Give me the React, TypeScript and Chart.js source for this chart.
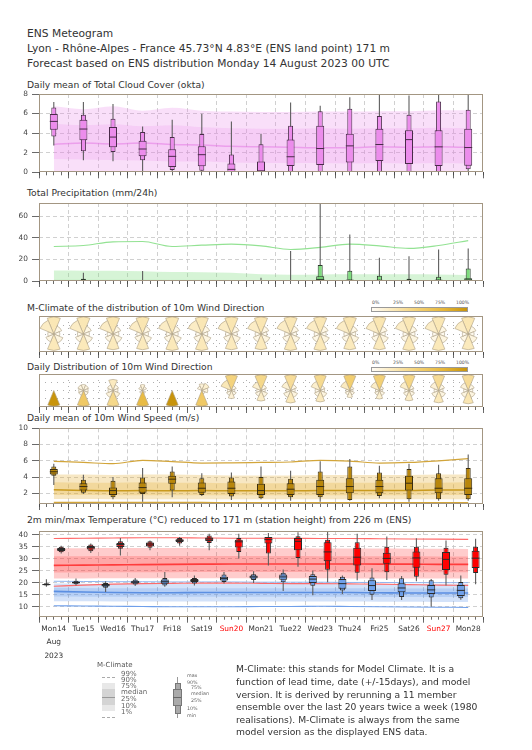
import React, { useEffect, useRef } from 'react';
import { Chart, registerables } from 'chart.js';

Chart.register(...registerables);

const FONT = '"DejaVu Sans", "Liberation Sans", sans-serif';
Chart.defaults.font.family = FONT;

// ---------------- categories / time ----------------
const DAY_LABELS = ['Mon14', 'Tue15', 'Wed16', 'Thu17', 'Fri18', 'Sat19', 'Sun20', 'Mon21', 'Tue22', 'Wed23', 'Thu24', 'Fri25', 'Sat26', 'Sun27', 'Mon28'];
const MONTH_LABEL = 'Aug';
const YEAR_LABEL = '2023';
// days since 14 Aug 00 UTC
const DAILY_T = [0.5, 1.5, 2.5, 3.5, 4.5, 5.5, 6.5, 7.5, 8.5, 9.5, 10.5, 11.5, 12.5, 13.5, 14.5];
const TMIN_T = [0.25, 1.25, 2.25, 3.25, 4.25, 5.25, 6.25, 7.25, 8.25, 9.25, 10.25, 11.25, 12.25, 13.25, 14.25];
const TMAX_T = [0.75, 1.75, 2.75, 3.75, 4.75, 5.75, 6.75, 7.75, 8.75, 9.75, 10.75, 11.75, 12.75, 13.75, 14.75];

// ---------------- tick labels ----------------
const CLOUD_TICKS = [0, 2, 4, 6, 8];
const PRECIP_TICKS = [0, 20, 40, 60];
const WIND_TICKS = [2, 4, 6, 8, 10];
const TEMP_TICKS = [10, 15, 20, 25, 30, 35, 40];
const COLORBAR_TICKS = ['0%', '25%', '50%', '75%', '100%'];

// ---------------- total cloud cover (okta) ----------------
const cloudMin = [2.75, 1.22, 1.12, 0, 0, 0, 0, 0, 0, 0, 0, 0, 0, 0, 0];
const cloudP10 = [3.67, 2.14, 2.07, 1.22, 0.24, 0.17, 0, 0, 0, 0, 0, 0, 0, 0, 0.3];
const cloudP25 = [4.35, 3.27, 2.55, 1.63, 0.54, 0.61, 0, 0, 0.64, 0.74, 1.0, 1.15, 0.84, 0.64, 0.68];
const cloudMed = [5.2, 4.42, 3.6, 2.38, 1.63, 1.8, 0.3, 0.15, 1.59, 2.43, 2.7, 2.84, 3.34, 2.6, 2.53];
const cloudP75 = [5.95, 5.37, 4.63, 3.23, 2.35, 2.65, 0.9, 1.1, 3.34, 4.76, 3.95, 4.46, 4.29, 4.29, 4.46];
const cloudP90 = [6.63, 5.88, 5.48, 4.12, 3.6, 3.91, 1.82, 2.87, 4.76, 6.25, 6.49, 5.74, 5.88, 7.23, 6.39];
const cloudMax = [7.18, 7.18, 6.97, 4.69, 5.37, 5.99, 5.2, 3.95, 7.13, 6.8, 7.67, 7.94, 7.84, 7.94, 7.94];
const cloudClimP10 = [0, 0, 0, 0, 0, 0, 0, 0, 0, 0, 0, 0, 0, 0, 0];
const cloudClimP25 = [1.35, 1.3, 1.25, 1.2, 1.1, 1.1, 1.0, 0.95, 0.95, 0.95, 0.9, 0.95, 0.9, 0.95, 0.9];
const cloudClimMed = [2.85, 3.0, 2.9, 3.0, 2.85, 2.8, 2.65, 2.6, 2.55, 2.5, 2.5, 2.6, 2.55, 2.6, 2.55];
const cloudClimP75 = [4.95, 4.8, 4.9, 4.7, 4.8, 4.6, 4.5, 4.45, 4.45, 4.5, 4.45, 4.5, 4.5, 4.55, 4.5];
const cloudClimP90 = [6.75, 6.45, 6.75, 6.3, 6.6, 6.3, 6.2, 6.15, 6.15, 6.2, 6.2, 6.25, 6.25, 6.35, 6.35];

// ---------------- total precipitation (mm/24h) ----------------
const precipMin = [0, 0, 0, 0, 0, 0, 0, 0, 0, 0, 0, 0, 0, 0, 0];
const precipP10 = [0, 0, 0, 0, 0, 0, 0, 0, 0, 0, 0, 0, 0, 0, 0];
const precipP25 = [0, 0, 0, 0, 0, 0, 0, 0, 0, 0.3, 0, 0, 0, 0, 0];
const precipMed = [0, 0, 0, 0, 0, 0, 0, 0, 0, 1.5, 0.4, 0.3, 0.2, 0.3, 0.5];
const precipP75 = [0, 0.8, 0, 0.2, 0, 0, 0, 0, 0.5, 4.5, 1.5, 1.2, 1.0, 1.5, 2.5];
const precipP90 = [0.3, 2.0, 0.2, 0.5, 0, 0, 0, 0.5, 1.0, 14.8, 9.5, 4.9, 2.2, 4.0, 11.7];
const precipMax = [0.5, 7.7, 0.5, 9.2, 0, 0, 0, 3.0, 27.7, 80, 43, 21.5, 23, 29.2, 30.2];
const precipClimP75 = [1.5, 1.5, 1.4, 1.3, 1.2, 1.1, 1.0, 0.9, 0.9, 0.9, 0.9, 0.9, 0.9, 0.8, 0.8];
const precipClimP90 = [9.8, 9.6, 9.5, 9.0, 8.3, 8.2, 7.7, 6.2, 5.8, 6.0, 6.2, 6.2, 6.2, 6.0, 5.5];
const precipClimP99 = [32, 32.9, 36.3, 36.6, 32, 33.2, 34.2, 32.6, 29.2, 31.1, 34.2, 32.6, 30.2, 32.9, 37.5];
const precipClimZero = [0, 0, 0, 0, 0, 0, 0, 0, 0, 0, 0, 0, 0, 0, 0];

// ---------------- 10m wind direction (% per sector N, NE, E, SE, S, SW, W, NW) ----------------
const roseClim = [
  [24, 6, 3, 8, 22, 6, 3, 18], [24, 6, 3, 8, 22, 6, 3, 18], [25, 6, 3, 8, 21, 6, 3, 18],
  [25, 6, 3, 8, 21, 6, 3, 18], [24, 6, 3, 8, 22, 6, 3, 18], [24, 6, 3, 8, 22, 6, 3, 18],
  [25, 6, 3, 8, 21, 6, 3, 18], [25, 6, 3, 8, 21, 6, 3, 18], [24, 6, 3, 8, 22, 6, 3, 18],
  [24, 6, 3, 8, 22, 6, 3, 18], [25, 6, 3, 8, 21, 6, 3, 18], [25, 6, 3, 8, 21, 6, 3, 18],
  [24, 6, 3, 8, 22, 6, 3, 18], [24, 6, 3, 8, 22, 6, 3, 18], [25, 6, 3, 8, 21, 6, 3, 18],
];
const roseDaily = [
  [0, 0, 0, 0, 100, 0, 0, 0],
  [8, 7, 5, 6, 55, 6, 5, 8],
  [20, 6, 4, 9, 40, 9, 4, 6],
  [10, 5, 0, 3, 70, 3, 0, 5],
  [0, 0, 0, 0, 100, 0, 0, 0],
  [10, 14, 8, 3, 55, 0, 0, 5],
  [45, 5, 2, 5, 12, 5, 3, 23],
  [40, 6, 3, 8, 18, 6, 3, 14],
  [35, 6, 3, 8, 22, 8, 3, 13],
  [38, 4, 3, 8, 20, 6, 4, 15],
  [50, 4, 2, 5, 10, 5, 3, 20],
  [48, 4, 2, 6, 14, 5, 3, 17],
  [42, 5, 3, 6, 18, 6, 3, 16],
  [36, 6, 3, 8, 22, 8, 3, 12],
  [35, 6, 3, 8, 25, 8, 3, 10],
];

// ---------------- 10m wind speed (m/s) ----------------
const windMin = [3.03, 1.92, 1.26, 0.97, 1.5, 1.67, 1.17, 1.26, 1.09, 0.97, 1.09, 1.38, 0.97, 1.09, 1.09];
const windP10 = [4.15, 2.08, 1.5, 1.92, 2.33, 1.8, 1.59, 1.38, 1.5, 1.5, 1.17, 1.67, 1.26, 1.26, 1.26];
const windP25 = [4.32, 2.33, 1.8, 2.08, 3.16, 2.08, 1.92, 1.8, 1.8, 1.8, 2.0, 2.0, 2.33, 2.0, 1.8];
const windMed = [4.65, 2.83, 2.33, 2.7, 3.74, 2.62, 2.62, 2.33, 2.5, 2.83, 2.83, 2.83, 3.24, 2.62, 2.62];
const windP75 = [4.98, 3.24, 2.7, 3.32, 4.15, 3.32, 3.45, 3.16, 3.24, 3.66, 3.86, 3.66, 4.15, 3.86, 3.86];
const windP90 = [5.31, 3.66, 3.53, 3.95, 4.69, 3.86, 3.95, 3.99, 3.78, 4.69, 5.31, 4.57, 4.98, 4.48, 5.1];
const windMax = [5.64, 4.28, 3.99, 5.1, 5.31, 4.48, 4.57, 5.31, 4.77, 5.93, 6.22, 5.39, 5.64, 5.51, 6.76];
const windClimP1 = [0.88, 0.88, 0.87, 0.87, 0.87, 0.87, 0.86, 0.86, 0.86, 0.86, 0.86, 0.86, 0.86, 0.86, 0.86];
const windClimP10 = [1.3, 1.3, 1.28, 1.28, 1.28, 1.27, 1.26, 1.26, 1.26, 1.27, 1.27, 1.27, 1.27, 1.28, 1.28];
const windClimP25 = [1.8, 1.78, 1.76, 1.77, 1.76, 1.76, 1.75, 1.75, 1.75, 1.76, 1.76, 1.76, 1.76, 1.78, 1.78];
const windClimMed = [2.42, 2.35, 2.3, 2.35, 2.3, 2.35, 2.3, 2.3, 2.3, 2.35, 2.35, 2.35, 2.35, 2.4, 2.4];
const windClimP75 = [3.35, 3.3, 3.3, 3.35, 3.3, 3.3, 3.25, 3.25, 3.25, 3.3, 3.3, 3.3, 3.3, 3.3, 3.35];
const windClimP90 = [4.3, 4.3, 4.25, 4.3, 4.3, 4.25, 4.2, 4.2, 4.2, 4.25, 4.25, 4.25, 4.25, 4.3, 4.3];
const windClimP99 = [5.93, 5.8, 5.64, 6.06, 5.9, 5.72, 5.75, 5.8, 5.85, 6.06, 5.97, 5.72, 5.8, 6.0, 6.26];

// ---------------- 2m min / max temperature (°C) ----------------
const tminLo = [18.3, 18.8, 16.1, 18.6, 18.3, 18.8, 19.7, 19.9, 16.5, 14.8, 15.3, 12.8, 12.8, 10.0, 12.9];
const tminP10 = [18.8, 19.4, 17.9, 19.2, 18.8, 19.7, 20.3, 21.1, 20.2, 18.7, 16.8, 15.0, 14.0, 13.8, 13.5];
const tminP25 = [19.0, 19.7, 18.4, 19.7, 19.6, 20.3, 20.9, 21.7, 21.2, 19.9, 17.5, 16.5, 16.0, 15.3, 14.5];
const tminMed = [19.2, 20.1, 19.0, 20.2, 20.4, 20.9, 21.7, 22.4, 22.4, 21.5, 19.6, 18.8, 17.8, 17.0, 16.8];
const tminP75 = [19.4, 20.4, 19.5, 20.8, 21.3, 21.5, 22.5, 23.0, 23.4, 22.8, 21.5, 21.0, 19.8, 19.0, 19.0];
const tminP90 = [19.8, 20.8, 19.9, 21.3, 22.0, 22.0, 23.4, 23.5, 24.1, 23.5, 22.5, 22.2, 21.8, 21.0, 20.3];
const tminHi = [21.4, 21.7, 20.6, 22.0, 24.4, 23.0, 24.4, 24.8, 25.5, 25.0, 23.0, 26.0, 22.8, 21.5, 23.0];

const tmaxLo = [32.1, 32.4, 31.3, 33.5, 35.4, 33.5, 30.1, 27.1, 26.6, 20.2, 21.0, 21.1, 20.6, 18.8, 19.4];
const tmaxP10 = [32.7, 33.1, 34.1, 34.5, 36.3, 36.5, 32.8, 32.1, 30.3, 25.4, 24.1, 24.3, 22.5, 23.3, 24.0];
const tmaxP25 = [33.2, 33.8, 34.8, 35.2, 36.9, 37.3, 34.6, 36.3, 33.5, 28.9, 27.1, 27.9, 26.2, 25.3, 26.1];
const tmaxMed = [33.8, 34.6, 35.9, 36.1, 37.6, 38.2, 37.0, 37.9, 37.2, 32.8, 30.6, 30.1, 30.3, 29.7, 30.2];
const tmaxP75 = [34.4, 35.3, 36.5, 36.7, 38.1, 38.8, 37.9, 39.0, 38.6, 36.8, 34.5, 32.5, 33.0, 32.8, 33.3];
const tmaxP90 = [34.9, 35.9, 37.2, 37.2, 38.6, 39.6, 38.6, 39.0, 39.3, 37.9, 36.8, 35.0, 35.0, 34.5, 35.0];
const tmaxHi = [35.4, 36.3, 38.6, 37.6, 39.0, 40.4, 40.4, 40.7, 41.0, 41.8, 40.4, 39.2, 38.5, 37.6, 38.3];

const tmaxClimP1 = [18.5, 19.0, 19.4, 19.6, 19.7, 19.8, 19.8, 19.7, 19.6, 19.6, 19.5, 19.4, 19.2, 19.0, 18.9];
const tmaxClimP10 = [21.7, 21.7, 21.8, 21.8, 21.8, 21.8, 21.8, 21.8, 21.8, 21.8, 21.7, 21.7, 21.7, 21.7, 21.7];
const tmaxClimP25 = [24.2, 24.2, 24.3, 24.3, 24.3, 24.4, 24.4, 24.4, 24.4, 24.4, 24.3, 24.3, 24.3, 24.3, 24.3];
const tmaxClimMed = [27.2, 27.3, 27.4, 27.5, 27.6, 27.7, 27.8, 27.8, 27.8, 27.8, 27.8, 27.7, 27.7, 27.6, 27.6];
const tmaxClimP75 = [31.0, 31.0, 31.1, 31.1, 31.1, 31.1, 31.1, 31.1, 31.1, 31.0, 31.0, 31.0, 31.0, 30.9, 30.9];
const tmaxClimP90 = [34.3, 34.3, 34.4, 34.4, 34.4, 34.3, 34.3, 34.3, 34.3, 34.2, 34.2, 34.2, 34.1, 34.1, 34.0];
const tmaxClimP99 = [38.4, 38.5, 38.6, 38.7, 38.7, 38.6, 38.5, 38.5, 38.5, 38.4, 38.4, 38.3, 38.2, 38.1, 38.0];

const tminClimP1 = [10.4, 10.3, 10.2, 10.1, 10.0, 10.0, 10.0, 10.1, 10.1, 10.2, 10.1, 10.0, 9.9, 9.8, 9.7];
const tminClimP10 = [12.3, 12.3, 12.2, 12.2, 12.2, 12.2, 12.2, 12.2, 12.2, 12.2, 12.2, 12.1, 12.1, 12.0, 12.0];
const tminClimP25 = [14.3, 14.2, 14.1, 14.1, 14.1, 14.1, 14.1, 14.1, 14.1, 14.1, 14.1, 14.0, 14.0, 14.0, 14.0];
const tminClimMed = [16.4, 16.1, 15.9, 15.8, 15.8, 15.9, 15.9, 15.9, 15.9, 15.9, 15.9, 15.8, 15.7, 15.7, 15.7];
const tminClimP75 = [17.9, 17.8, 17.7, 17.7, 17.7, 17.7, 17.7, 17.7, 17.7, 17.7, 17.7, 17.6, 17.6, 17.6, 17.6];
const tminClimP90 = [19.7, 19.6, 19.5, 19.5, 19.5, 19.5, 19.5, 19.5, 19.5, 19.5, 19.4, 19.4, 19.4, 19.3, 19.3];
const tminClimP99 = [20.6, 20.5, 20.4, 20.4, 20.3, 20.3, 20.3, 20.2, 20.2, 20.2, 20.1, 20.1, 20.0, 20.0, 20.0];

// ---------------- styles ----------------
const TMAX_COLORS = ['#c81c1c', '#d01a1a', '#cc1818', '#c81414', '#c81010', '#d81010', '#ff0000', '#ff0000', '#ff0000', '#ff0000', '#ff0000', '#ff0000', '#ff0000', '#ff0000', '#ff0000'];
const TMIN_COLORS = ['#2e4570', '#4a6ea8', '#3f639a', '#4b72ad', '#5d8ed4', '#5381c4', '#6699e0', '#6a9de6', '#6a9de6', '#6d9fe9', '#6fa0ea', '#6fa0ea', '#6fa0ea', '#6fa0ea', '#6fa0ea'];
const RAMP: [number, number[]][] = [[0, [255, 252, 245]], [0.25, [250, 230, 178]], [0.5, [242, 206, 112]], [0.75, [230, 182, 58]], [1, [200, 148, 12]]];
const GRID = '#c4c4c4';
const PAGE_W = 532;
const PLOT_LEFT = 39;
const PLOT_RIGHT = 483;

type Geom = { canvasTop: number; plotTop: number; plotBottom: number; canvasBottom: number };
const G_CLOUD: Geom = { canvasTop: 89, plotTop: 93.5, plotBottom: 172.3, canvasBottom: 180 };
const G_PRECIP: Geom = { canvasTop: 198, plotTop: 202.7, plotBottom: 281, canvasBottom: 288 };
const G_ROSE1: Geom = { canvasTop: 312, plotTop: 316, plotBottom: 352, canvasBottom: 358 };
const G_ROSE2: Geom = { canvasTop: 370, plotTop: 374, plotBottom: 407, canvasBottom: 414 };
const G_WIND: Geom = { canvasTop: 423, plotTop: 428.3, plotBottom: 504, canvasBottom: 511 };
const G_TEMP: Geom = { canvasTop: 526, plotTop: 530.7, plotBottom: 616.7, canvasBottom: 664 };

function rampColor(f: number): string {
  const v = Math.max(0, Math.min(1, f));
  for (let i = 1; i < RAMP.length; i++) {
    if (v <= RAMP[i][0]) {
      const [a0, c0] = RAMP[i - 1];
      const [a1, c1] = RAMP[i];
      const t = (v - a0) / (a1 - a0);
      const c = c0.map((c, k) => Math.round(c + (c1[k] - c) * t));
      return `rgb(${c[0]},${c[1]},${c[2]})`;
    }
  }
  return 'rgb(200,148,12)';
}

function labelFor(v: number): any {
  const i = Math.floor(v + 1e-9);
  if (Math.abs(v - i - 0.5) > 1e-6 || i < 0 || i >= DAY_LABELS.length) return '';
  return i === 0 ? [DAY_LABELS[0], MONTH_LABEL, YEAR_LABEL] : DAY_LABELS[i];
}

type Stats = { lo: number[]; p10: number[]; p25: number[]; med: number[]; p75: number[]; p90: number[]; hi: number[] };

function boxSets(xs: number[], s: Stats, fill: any, edge: string): any[] {
  const span = (a: number[], b: number[]) => xs.map((x, i) => ({ x, y: [a[i], b[i]] }));
  const common = { type: 'bar', grouped: false, borderSkipped: false, inflateAmount: 0, xAxisID: 'x', yAxisID: 'y' };
  return [
    { ...common, data: span(s.lo, s.hi), backgroundColor: '#5e5e5e', borderWidth: 0, barThickness: 1.1, order: 4 },
    { ...common, data: span(s.p10, s.p90), backgroundColor: fill, borderColor: edge, borderWidth: 1, barThickness: 5, order: 3 },
    { ...common, data: span(s.p25, s.p75), backgroundColor: fill, borderColor: edge, borderWidth: 1, barThickness: 8, order: 2 },
    {
      type: 'line', xAxisID: 'x', yAxisID: 'y', data: xs.map((x, i) => ({ x, y: s.med[i] })), showLine: false,
      pointStyle: 'line', pointRadius: 4, pointHoverRadius: 4, pointBorderWidth: 1, pointBorderColor: edge, pointBackgroundColor: edge, order: 1,
    },
  ];
}

function pts(xs: number[], a: number[]) {
  return xs.map((x, i) => ({ x, y: a[i] }));
}

function band(xs: number[], lower: number[], upper: number[], color: string): any[] {
  const base = { type: 'line', xAxisID: 'x', yAxisID: 'y', borderColor: 'rgba(0,0,0,0)', borderWidth: 1, pointRadius: 0, cubicInterpolationMode: 'monotone', order: 20 };
  return [
    { ...base, data: pts(xs, lower), fill: false },
    { ...base, data: pts(xs, upper), fill: '-1', backgroundColor: color },
  ];
}

function curve(xs: number[], vals: number[], color: string, width: number): any {
  return { type: 'line', xAxisID: 'x', yAxisID: 'y', data: pts(xs, vals), borderColor: color, borderWidth: width, pointRadius: 0, fill: false, cubicInterpolationMode: 'monotone', order: 15 };
}

function xAxes(axisHeight: number, labels: boolean, dash: number[], gridColor: string) {
  const quarter = Array.from({ length: 61 }, (_, k) => k / 4);
  const days = Array.from({ length: 16 }, (_, k) => k);
  return {
    x: {
      type: 'linear', position: 'bottom', min: 0, max: 15, offset: false, weight: 0,
      afterBuildTicks: (s: any) => { s.ticks = quarter.map((value) => ({ value })); },
      afterFit: (s: any) => { s.height = axisHeight; s.paddingLeft = 0; s.paddingRight = 0; },
      ticks: {
        display: labels, autoSkip: false, maxRotation: 0, minRotation: 0, padding: 2.5,
        font: { family: FONT, size: 7.4, lineHeight: 1.82 },
        color: (c: any) => {
          const v = c.tick ? c.tick.value : 0;
          const name = DAY_LABELS[Math.floor(v)] || '';
          return name.startsWith('Sun') ? '#ff0000' : '#333333';
        },
        callback: (v: any) => labelFor(Number(v)),
      },
      grid: {
        offset: false, lineWidth: 0.8, drawTicks: true, tickLength: 3, tickWidth: 0.8, tickColor: '#444444',
        color: (c: any) => {
          const v = c.tick ? c.tick.value : -1;
          return Number.isInteger(v) && v > 0 && v < 15 ? gridColor : 'rgba(0,0,0,0)';
        },
      },
      border: { display: false, dash },
    },
    xMajor: {
      type: 'linear', position: 'bottom', min: 0, max: 15, offset: false, weight: -1,
      afterBuildTicks: (s: any) => { s.ticks = days.map((value) => ({ value })); },
      afterFit: (s: any) => { s.height = 0; s.paddingLeft = 0; s.paddingRight = 0; },
      ticks: { display: false },
      grid: { offset: false, drawOnChartArea: false, drawTicks: true, tickLength: 6, tickWidth: 0.8, tickColor: '#444444' },
      border: { display: false },
    },
  };
}

function yAxis(min: number, max: number, ticks: number[], labels: boolean, dash: number[], gridColor: string, tickLen = 7) {
  return {
    type: 'linear', position: 'left', min, max,
    afterBuildTicks: (s: any) => { s.ticks = ticks.map((value) => ({ value })); },
    afterFit: (s: any) => { s.width = PLOT_LEFT; s.paddingTop = 0; s.paddingBottom = 0; },
    ticks: { display: labels, padding: 4, autoSkip: false, font: { family: FONT, size: 7.4 }, color: '#444444', callback: (v: any) => String(v) },
    grid: {
      lineWidth: 0.8, tickLength: tickLen, tickWidth: 0.8, tickColor: '#444444', drawTicks: tickLen > 0,
      color: (c: any) => {
        const v = c.tick ? c.tick.value : min;
        return v > min + 1e-6 && v < max - 1e-6 ? gridColor : 'rgba(0,0,0,0)';
      },
    },
    border: { display: false, dash },
  };
}

const framePlugin = {
  id: 'frame',
  afterDraw(chart: any) {
    const { ctx, chartArea: a } = chart;
    ctx.save();
    ctx.strokeStyle = '#a39682';
    ctx.lineWidth = 1;
    const l = Math.round(a.left) + 0.5, t = Math.round(a.top) + 0.5;
    const r = Math.round(a.right) - 0.5, b = Math.round(a.bottom) - 0.5;
    ctx.strokeRect(l, t, r - l, b - t);
    ctx.restore();
  },
};

function rosePlugin(dist: number[][]) {
  return {
    id: 'roses',
    afterDatasetsDraw(chart: any) {
      const { ctx, chartArea: a } = chart;
      const meta = chart.getDatasetMeta(0);
      const ys = chart.scales.y;
      const R = Math.abs(ys.getPixelForValue(1) - ys.getPixelForValue(0));
      ctx.save();
      ctx.beginPath();
      ctx.rect(a.left, a.top, a.right - a.left, a.bottom - a.top);
      ctx.clip();
      dist.forEach((freqs, i) => {
        const el = meta.data[i];
        if (!el) return;
        const cx = el.x, cy = el.y;
        const fmax = Math.max(...freqs);
        freqs.forEach((f, k) => {
          if (f <= 0) return;
          const r = R * 0.95 * Math.sqrt(f / fmax);
          const mid = (k * Math.PI) / 4 - Math.PI / 2;
          ctx.beginPath();
          ctx.moveTo(cx, cy);
          ctx.arc(cx, cy, r, mid - Math.PI / 8, mid + Math.PI / 8);
          ctx.closePath();
          ctx.fillStyle = rampColor(f / 100);
          ctx.fill();
          ctx.strokeStyle = '#ad9f84';
          ctx.lineWidth = 0.6;
          ctx.stroke();
        });
      });
      ctx.restore();
    },
  };
}

function options(g: Geom, scales: any) {
  return {
    responsive: false, maintainAspectRatio: false, animation: false, devicePixelRatio: 1, events: [],
    layout: { padding: { top: g.plotTop - g.canvasTop, right: PAGE_W - PLOT_RIGHT, bottom: 0, left: 0 } },
    plugins: { legend: { display: false }, tooltip: { enabled: false }, title: { display: false } },
    scales,
  };
}

const DASH = [4, 3];
const DOT = [1, 5];

function buildConfigs(): any[] {
  const cloud = {
    type: 'bar',
    data: {
      datasets: [
        ...band(DAILY_T, cloudClimP10, cloudClimP90, 'rgba(232,130,232,0.26)'),
        ...band(DAILY_T, cloudClimP25, cloudClimP75, 'rgba(232,130,232,0.2)'),
        curve(DAILY_T, cloudClimMed, 'rgba(228,120,228,0.55)', 1.5),
        ...boxSets(DAILY_T, { lo: cloudMin, p10: cloudP10, p25: cloudP25, med: cloudMed, p75: cloudP75, p90: cloudP90, hi: cloudMax }, '#ec8cec', '#4a2a4a'),
      ],
    },
    options: options(G_CLOUD, { ...xAxes(G_CLOUD.canvasBottom - G_CLOUD.plotBottom, false, DASH, GRID), y: yAxis(0, 8, CLOUD_TICKS, true, DASH, GRID) }),
    plugins: [framePlugin],
  };
  const precip = {
    type: 'bar',
    data: {
      datasets: [
        ...band(DAILY_T, precipClimZero, precipClimP90, 'rgba(120,220,120,0.3)'),
        ...band(DAILY_T, precipClimZero, precipClimP75, 'rgba(120,220,120,0.15)'),
        curve(DAILY_T, precipClimP99, '#93e293', 1.2),
        ...boxSets(DAILY_T, { lo: precipMin, p10: precipP10, p25: precipP25, med: precipMed, p75: precipP75, p90: precipP90, hi: precipMax }, '#7ddc7d', '#2a3a2a'),
      ],
    },
    options: options(G_PRECIP, { ...xAxes(G_PRECIP.canvasBottom - G_PRECIP.plotBottom, false, DASH, GRID), y: yAxis(0, 72.3, PRECIP_TICKS, true, DASH, GRID) }),
    plugins: [framePlugin],
  };
  const roseCfg = (g: Geom, dist: number[][]) => ({
    type: 'scatter',
    data: { datasets: [{ data: DAILY_T.map((x) => ({ x, y: 0 })), pointRadius: 0, xAxisID: 'x', yAxisID: 'y' }] },
    options: options(g, { ...xAxes(g.canvasBottom - g.plotBottom, false, DOT, '#9a9a9a'), y: yAxis(-1, 1, [-0.5, 0, 0.5], false, DOT, '#9a9a9a', 0) }),
    plugins: [rosePlugin(dist), framePlugin],
  });
  const wind = {
    type: 'bar',
    data: {
      datasets: [
        ...band(DAILY_T, windClimP10, windClimP90, 'rgba(226,170,40,0.28)'),
        ...band(DAILY_T, windClimP25, windClimP75, 'rgba(226,170,40,0.25)'),
        curve(DAILY_T, windClimMed, '#c99a1e', 1.5),
        curve(DAILY_T, windClimP99, '#d2a53a', 1.2),
        curve(DAILY_T, windClimP1, '#d2a53a', 1.2),
        ...boxSets(DAILY_T, { lo: windMin, p10: windP10, p25: windP25, med: windMed, p75: windP75, p90: windP90, hi: windMax }, '#b8860b', '#3a2e10'),
      ],
    },
    options: options(G_WIND, { ...xAxes(G_WIND.canvasBottom - G_WIND.plotBottom, false, DASH, GRID), y: yAxis(0.68, 10, WIND_TICKS, true, DASH, GRID) }),
    plugins: [framePlugin],
  };
  const temp = {
    type: 'bar',
    data: {
      datasets: [
        ...band(DAILY_T, tmaxClimP10, tmaxClimP90, 'rgba(255,40,40,0.24)'),
        ...band(DAILY_T, tmaxClimP25, tmaxClimP75, 'rgba(255,40,40,0.22)'),
        ...band(DAILY_T, tminClimP10, tminClimP90, 'rgba(80,140,230,0.25)'),
        ...band(DAILY_T, tminClimP25, tminClimP75, 'rgba(80,140,230,0.22)'),
        curve(DAILY_T, tmaxClimMed, '#ff3c3c', 1.6),
        curve(DAILY_T, tmaxClimP99, '#ff6a6a', 1.1),
        curve(DAILY_T, tmaxClimP1, '#ff6a6a', 1.1),
        curve(DAILY_T, tminClimMed, '#5b8fe2', 1.6),
        curve(DAILY_T, tminClimP99, '#8fb5ef', 1.0),
        curve(DAILY_T, tminClimP1, '#6f9fea', 1.1),
        ...boxSets(TMIN_T, { lo: tminLo, p10: tminP10, p25: tminP25, med: tminMed, p75: tminP75, p90: tminP90, hi: tminHi }, TMIN_COLORS, '#2a2a2a'),
        ...boxSets(TMAX_T, { lo: tmaxLo, p10: tmaxP10, p25: tmaxP25, med: tmaxMed, p75: tmaxP75, p90: tmaxP90, hi: tmaxHi }, TMAX_COLORS, '#2a2a2a'),
      ],
    },
    options: options(G_TEMP, { ...xAxes(G_TEMP.canvasBottom - G_TEMP.plotBottom, true, DASH, GRID), y: yAxis(5.85, 41.5, TEMP_TICKS, true, DASH, GRID) }),
    plugins: [framePlugin],
  };
  return [cloud, precip, roseCfg(G_ROSE1, roseClim), roseCfg(G_ROSE2, roseDaily), wind, temp];
}

const GEOMS = [G_CLOUD, G_PRECIP, G_ROSE1, G_ROSE2, G_WIND, G_TEMP];

function Text(props: { x: number; y: number; size: number; children: any; color?: string; lh?: number }) {
  const lh = props.lh || props.size * 1.3;
  return (
    <div style={{ position: 'absolute', left: props.x, top: props.y - lh / 2, fontSize: props.size, lineHeight: lh + 'px', color: props.color || '#333', whiteSpace: 'nowrap' }}>
      {props.children}
    </div>
  );
}

function ColorBar(props: { top: number }) {
  const grad = `linear-gradient(to right, ${RAMP.map(([p, c]) => `rgb(${c[0]},${c[1]},${c[2]}) ${p * 100}%`).join(', ')})`;
  return (
    <>
      {COLORBAR_TICKS.map((t, i) => (
        <div key={t} style={{ position: 'absolute', left: 372 + i * 21, top: props.top - 3, fontSize: 4.6, lineHeight: '5px', color: '#555', whiteSpace: 'nowrap' }}>{t}</div>
      ))}
      <div style={{ position: 'absolute', left: 371, top: props.top + 4, width: 95, height: 3, background: grad, border: '0.5px solid #999' }} />
    </>
  );
}

const LEGEND_CLIM = ['99%', '90%', '75%', 'median', '25%', '10%', '1%'];
const LEGEND_BOX = ['max', '90%', '75%', 'median', '25%', '10%', 'min'];
const NOTE_LINES = [
  'M-Climate: this stands for Model Climate. It is a',
  'function of lead time, date (+/-15days), and model',
  'version. It is derived by rerunning a 11 member',
  'ensemble over the last 20 years twice a week (1980',
  'realisations). M-Climate is always from the same',
  'model version as the displayed ENS data.',
];

export default function App() {
  const refs = useRef<(HTMLCanvasElement | null)[]>([]);
  useEffect(() => {
    const cfgs = buildConfigs();
    const charts = cfgs.map((cfg, i) => new Chart(refs.current[i] as HTMLCanvasElement, cfg));
    return () => charts.forEach((c) => c.destroy());
  }, []);

  const climY = [674, 680, 686, 692.5, 699.5, 706, 712.5];
  const boxY = [675, 682, 687.5, 693.5, 700.5, 708, 715];
  const boxX = [187, 187, 191, 191, 191, 187, 187];

  return (
    <div style={{ position: 'absolute', left: 0, top: 0, width: PAGE_W, height: 750, background: '#fff', fontFamily: FONT, color: '#333', overflow: 'hidden' }}>
      <Text x={27} y={34} size={10.7}>ENS Meteogram</Text>
      <Text x={27} y={49.3} size={10.7}>Lyon - Rhône-Alpes - France 45.73°N 4.83°E (ENS land point) 171 m</Text>
      <Text x={27} y={64.3} size={10.7}>Forecast based on ENS distribution Monday 14 August 2023 00 UTC</Text>

      <Text x={27} y={84.8} size={9.2}>Daily mean of Total Cloud Cover (okta)</Text>
      <Text x={27} y={193.3} size={9.2}>Total Precipitation (mm/24h)</Text>
      <Text x={27} y={308.3} size={9.2}>M-Climate of the distribution of 10m Wind Direction</Text>
      <Text x={27} y={367.3} size={9.2}>Daily Distribution of 10m Wind Direction</Text>
      <Text x={27} y={418.3} size={9.2}>Daily mean of 10m Wind Speed (m/s)</Text>
      <Text x={27} y={520} size={9.2}>2m min/max Temperature (°C) reduced to 171 m (station height) from 226 m (ENS)</Text>

      <ColorBar top={303} />
      <ColorBar top={363} />

      {GEOMS.map((g, i) => (
        <canvas
          key={i}
          ref={(el) => { refs.current[i] = el; }}
          width={PAGE_W}
          height={g.canvasBottom - g.canvasTop}
          style={{ position: 'absolute', left: 0, top: g.canvasTop, width: PAGE_W, height: g.canvasBottom - g.canvasTop }}
        />
      ))}

      {/* M-Climate legend */}
      <Text x={97} y={666} size={7} color="#555">M-Climate</Text>
      <div style={{ position: 'absolute', left: 102, top: 677, width: 13, borderTop: '1px dashed #aaa' }} />
      <div style={{ position: 'absolute', left: 102, top: 683, width: 13, height: 28, background: '#e8e8e8' }} />
      <div style={{ position: 'absolute', left: 102, top: 689, width: 13, height: 16, background: '#d4d4d4' }} />
      <div style={{ position: 'absolute', left: 102, top: 697, width: 13, height: 1, background: '#999' }} />
      <div style={{ position: 'absolute', left: 102, top: 717, width: 13, borderTop: '1px dashed #aaa' }} />
      {LEGEND_CLIM.map((t, i) => (
        <Text key={t + i} x={121} y={climY[i]} size={7} lh={7} color="#666">{t}</Text>
      ))}

      {/* box legend */}
      <div style={{ position: 'absolute', left: 176.5, top: 677, width: 1, height: 41, background: '#999' }} />
      <div style={{ position: 'absolute', left: 174.5, top: 683, width: 4, height: 29, background: '#aaa', border: '0.5px solid #777' }} />
      <div style={{ position: 'absolute', left: 173, top: 689, width: 7, height: 15, background: '#aaa', border: '0.5px solid #777' }} />
      <div style={{ position: 'absolute', left: 173, top: 697, width: 8, height: 1, background: '#666' }} />
      {LEGEND_BOX.map((t, i) => (
        <Text key={t + i} x={boxX[i]} y={boxY[i]} size={4.8} lh={5} color="#666">{t}</Text>
      ))}

      <div style={{ position: 'absolute', left: 236, top: 663.4, fontSize: 9.2, lineHeight: '12.6px', color: '#333' }}>
        {NOTE_LINES.map((l) => (
          <div key={l} style={{ whiteSpace: 'nowrap' }}>{l}</div>
        ))}
      </div>
    </div>
  );
}
